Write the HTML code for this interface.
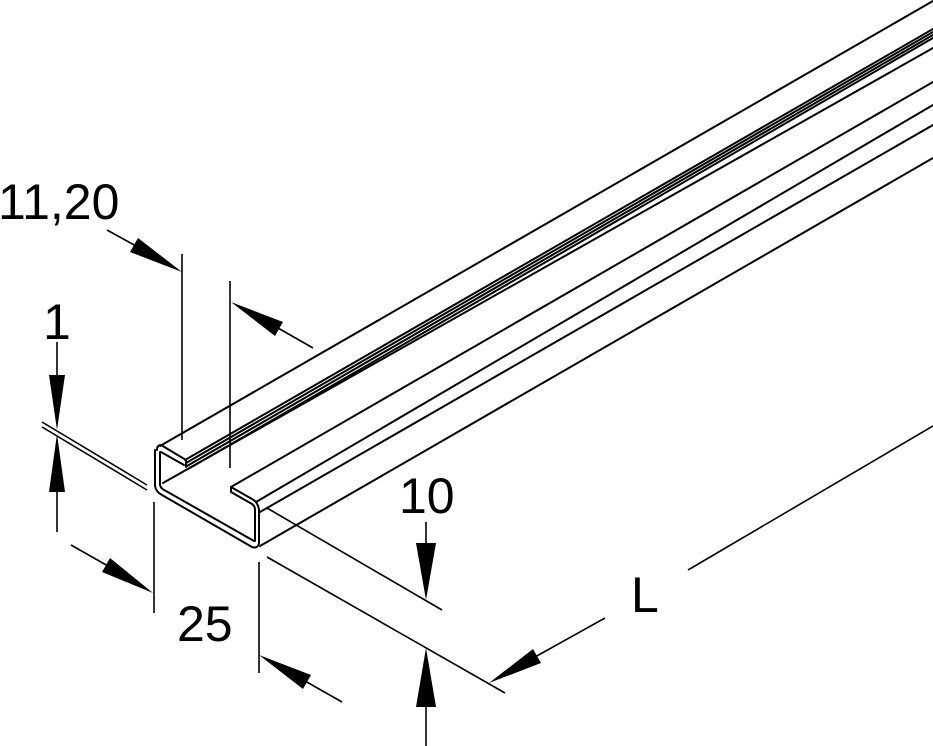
<!DOCTYPE html>
<html><head><meta charset="utf-8"><style>
html,body{margin:0;padding:0;background:#fff;width:933px;height:746px;overflow:hidden}
svg{display:block}
text{font-family:"Liberation Sans",Arial,sans-serif;font-size:50px;fill:#000}
</style></head><body>
<svg width="933" height="746" viewBox="0 0 933 746" xmlns="http://www.w3.org/2000/svg">
<g stroke="#000" stroke-width="2" fill="none" stroke-linecap="round" stroke-linejoin="round">
<line x1="160" y1="446" x2="933" y2="1"/>
<line x1="185" y1="460" x2="933" y2="29"/>
<line x1="186" y1="463" x2="933" y2="32"/>
<line x1="187" y1="466" x2="933" y2="35"/>
<line x1="188" y1="469" x2="933" y2="38"/>
<line x1="163" y1="483" x2="933" y2="48"/>
<line x1="231" y1="487" x2="933" y2="82"/>
<line x1="256" y1="502" x2="933" y2="105"/>
<line x1="260" y1="512" x2="933" y2="125"/>
<line x1="260" y1="546" x2="933" y2="158"/>
<path d="M157,450 Q157,445 161,445 L186,460 L186,467"/>
<path d="M161,452 L184,465"/>
<path d="M155,450 L155,486 Q156,492 162,495 L252,547 Q258,549 259,543 L259,510 Q258,502 252,499 L231,487 L231,492 L252,504 Q255,506 255,510 L255,541"/>
<path d="M160,452 L160,485 Q161,489 166,491 L254,541"/>
</g>
<g stroke="#000" stroke-width="1.6" fill="none">
<line x1="107" y1="230" x2="136" y2="246"/>
<line x1="182" y1="254" x2="182" y2="440"/>
<line x1="230" y1="281" x2="230" y2="468"/>
<line x1="278" y1="328" x2="313" y2="348"/>
<line x1="57" y1="342" x2="57" y2="376"/>
<line x1="57" y1="490" x2="57" y2="532"/>
<line x1="42" y1="422" x2="147" y2="485"/>
<line x1="42" y1="427" x2="147" y2="490"/>
<line x1="71" y1="545" x2="108" y2="566"/>
<line x1="154" y1="502" x2="154" y2="613"/>
<line x1="259" y1="562" x2="259" y2="673"/>
<line x1="305" y1="681" x2="342" y2="702"/>
<line x1="426" y1="522" x2="426" y2="545"/>
<line x1="267" y1="508" x2="442" y2="610"/>
<line x1="267" y1="557" x2="505" y2="693"/>
<line x1="426" y1="705" x2="426" y2="746"/>
<line x1="535" y1="657" x2="605" y2="618"/>
<line x1="688" y1="570" x2="933" y2="426"/>
</g>
<g fill="#000" stroke="none">
<polygon points="182,272 130,252 138,238"/>
<polygon points="231,302 275,336 283,322"/>
<polygon points="57,430 49,375 65,375"/>
<polygon points="57,434 49,492 65,492"/>
<polygon points="153,593 110,558 102,572"/>
<polygon points="259,655 303,689 311,675"/>
<polygon points="426,600 416,543 436,543"/>
<polygon points="426,648 416,707 436,707"/>
<polygon points="489,683 541,663 533,649"/>
</g>
<text x="-2" y="219">11,20</text>
<text x="43" y="339">1</text>
<text x="399" y="513">10</text>
<text x="177" y="641">25</text>
<text x="631" y="612">L</text>
</svg>
</body></html>
